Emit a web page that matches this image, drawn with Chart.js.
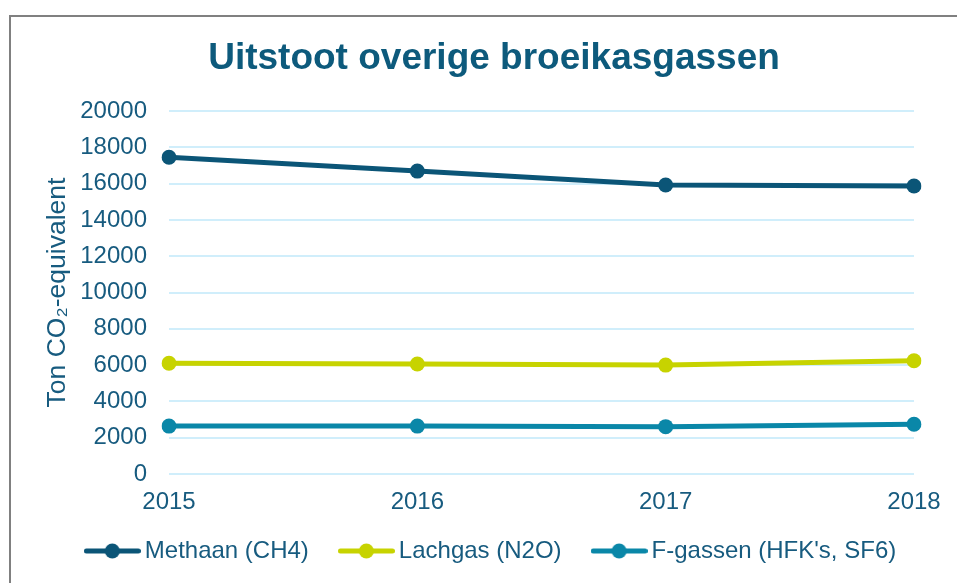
<!DOCTYPE html>
<html>
<head>
<meta charset="utf-8">
<title>Uitstoot overige broeikasgassen</title>
<script src="https://cdn.jsdelivr.net/npm/chart.js@4/dist/chart.umd.min.js"></script>
<style>
  html, body { margin: 0; padding: 0; background: #fff; overflow: hidden; }
  #frame {
    position: absolute; left: 9px; top: 15px; width: 1000px; height: 700px;
    border-left: 2px solid #808080; border-top: 2px solid #808080;
  }
  #chart { position: absolute; left: 10px; top: 0; }
</style>
</head>
<body>
<div id="frame"></div>
<canvas id="chart" width="968" height="583"></canvas>
<script>
const years = ['2015', '2016', '2017', '2018'];
const methaan = [17450, 16690, 15920, 15870];
const lachgas = [6100, 6060, 6000, 6240];
const fgassen = [2640, 2640, 2610, 2740];
const yTicks = [0, 2000, 4000, 6000, 8000, 10000, 12000, 14000, 16000, 18000, 20000];

const textColor = '#175b7f';
const colors = ['#0b5577', '#c7d300', '#0a87a8'];
const font = 'Liberation Sans, Arial, sans-serif';

// Legend marker: short line with a dot in the middle
function legendMarker(color) {
  const c = document.createElement('canvas');
  c.width = 57;
  c.height = 16;
  const g = c.getContext('2d');
  g.strokeStyle = color;
  g.fillStyle = color;
  g.lineWidth = 5;
  g.lineCap = 'round';
  g.beginPath();
  g.moveTo(2.5, 8);
  g.lineTo(54.5, 8);
  g.stroke();
  g.beginPath();
  g.arc(28.5, 8, 7.5, 0, Math.PI * 2);
  g.fill();
  return c;
}
const markers = colors.map(legendMarker);

function series(label, data, color) {
  return {
    label: label,
    data: data,
    borderColor: color,
    backgroundColor: color,
    borderWidth: 5,
    pointRadius: 7.5,
    pointHoverRadius: 7.5,
    pointBorderWidth: 0,
    tension: 0
  };
}

// x axis is kept short so the legend sits close; let its labels draw below it
const unclipXLabels = {
  id: 'unclipXLabels',
  afterLayout: chart => {
    chart.scales.x.bottom = chart.height;
  }
};

new Chart(document.getElementById('chart').getContext('2d'), {
  type: 'line',
  data: {
    labels: years,
    datasets: [
      series('Methaan (CH4)', methaan, colors[0]),
      series('Lachgas (N2O)', lachgas, colors[1]),
      series("F-gassen (HFK's, SF6)", fgassen, colors[2])
    ]
  },
  plugins: [unclipXLabels],
  options: {
    responsive: false,
    animation: false,
    layout: { padding: { left: 0, right: 0, top: 0, bottom: 10 } },
    plugins: {
      title: {
        display: true,
        text: 'Uitstoot overige broeikasgassen',
        color: '#0d5a7c',
        font: { family: font, size: 37, weight: 'bold', lineHeight: 1.2 },
        padding: { top: 37, bottom: 29.6 }
      },
      legend: {
        position: 'bottom',
        labels: {
          usePointStyle: true,
          pointStyleWidth: 41,
          padding: 37,
          color: textColor,
          font: { family: font, size: 24 },
          generateLabels: chart => {
            const items = Chart.defaults.plugins.legend.labels.generateLabels(chart);
            items.forEach((item, i) => { item.pointStyle = markers[i]; });
            return items;
          }
        }
      },
      tooltip: { enabled: false }
    },
    scales: {
      x: {
        grid: { display: false, drawTicks: false },
        border: { display: false },
        ticks: { color: textColor, padding: 14, font: { family: font, size: 24 } },
        afterFit: scale => {
          scale.height = 28;
          scale.paddingRight = 64;
        }
      },
      y: {
        min: 0,
        max: 20000,
        afterBuildTicks: scale => {
          scale.ticks = yTicks.map(v => ({ value: v }));
        },
        grid: { color: '#d0eefb', lineWidth: 2, drawTicks: false },
        border: { display: false },
        ticks: {
          color: textColor,
          padding: 22,
          font: { family: font, size: 24 },
          callback: value => String(value)
        },
        title: {
          display: true,
          text: 'Ton CO₂-equivalent',
          color: textColor,
          font: { family: font, size: 26.5, lineHeight: 1.2 },
          padding: { top: 31.8, bottom: 0 }
        },
        afterFit: scale => {
          scale.width = 159;
        }
      }
    }
  }
});
</script>
</body>
</html>
